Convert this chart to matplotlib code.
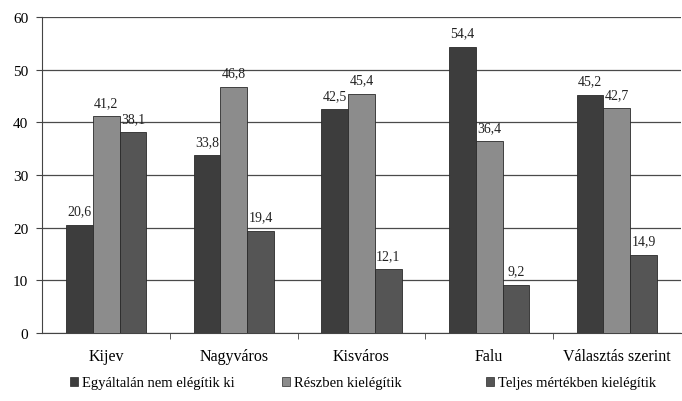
import numpy as np
from matplotlib import pyplot as plt
from matplotlib.patches import Patch

categories = ['Kijev', 'Nagyváros', 'Kisváros', 'Falu', 'Választás szerint']
series_names = ['Egyáltalán nem elégítik ki', 'Részben kielégítik', 'Teljes mértékben kielégítik']
nem = [20.6, 33.8, 42.5, 54.4, 45.2]
reszben = [41.2, 46.8, 45.4, 36.4, 42.7]
teljes = [38.1, 19.4, 12.1, 9.2, 14.9]
colors = ['#3d3d3d', '#8c8c8c', '#555555']

plt.rcParams['font.family'] = ['Liberation Serif', 'DejaVu Serif']

fig = plt.figure(figsize=(6.82, 4.02), dpi=100)
ax = fig.add_axes([0.062, 0.169, 0.936, 0.786])

x = np.arange(len(categories))
w = 0.21
for i, (vals, col) in enumerate(zip([nem, reszben, teljes], colors)):
    xs = x + (i - 1) * w
    ax.bar(xs, vals, w, color=col, edgecolor='#2a2a2a', linewidth=0.6, zorder=3)
    for xi, v in zip(xs, vals):
        ax.text(xi, v + 1.4, f'{v:.1f}'.replace('.', ','), ha='center', va='bottom',
                fontsize=10, color='#222222')

ax.set_xlim(-0.5, len(categories) - 0.5)
ax.set_ylim(0, 60)
ax.set_yticks(range(0, 61, 10))
ax.yaxis.grid(True, color='#4a4a4a', linewidth=0.9, zorder=0)
ax.set_axisbelow(True)
ax.set_xticks(x)
ax.set_xticklabels(categories, fontsize=11.5)
ax.set_xticks(np.arange(0.5, len(categories) - 0.5, 1), minor=True)
ax.tick_params(axis='x', which='major', length=0, pad=11)
ax.tick_params(axis='x', which='minor', length=4, color='#444444')
ax.tick_params(axis='y', labelsize=11, length=4, pad=6, color='#444444')
for s in ['top', 'right']:
    ax.spines[s].set_visible(False)
ax.spines['left'].set_color('#444444')
ax.spines['bottom'].set_color('#444444')

# legend entries placed like the original (equal-width slots)
legend_x = [70, 282, 486]
for name, col, lx in zip(series_names, colors, legend_x):
    h = Patch(facecolor=col, edgecolor='#2a2a2a', linewidth=0.5)
    fig.legend(handles=[h], labels=[name], loc='center left',
               bbox_to_anchor=(lx / 682, 1 - 384 / 402), frameon=False,
               fontsize=10.5, handlelength=0.55, handleheight=0.55, handletextpad=0.3,
               borderpad=0, borderaxespad=0)

plt.savefig('out.png', dpi=100)
